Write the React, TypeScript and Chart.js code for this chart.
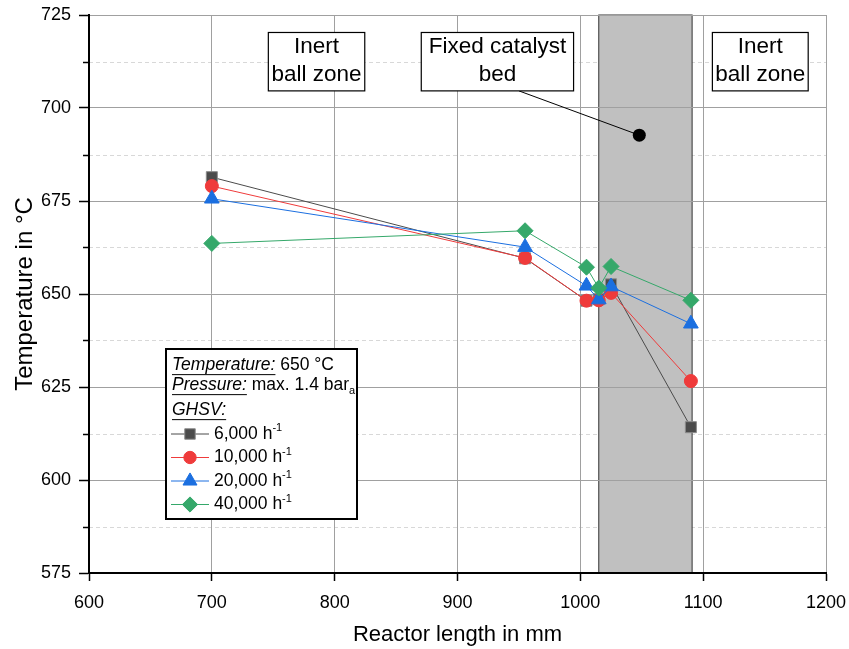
import React, { useEffect, useRef } from 'react';
import { Chart, registerables } from 'chart.js';

Chart.register(...registerables);

// ---- data ----
const reactorPositions = [700, 955, 1005, 1015, 1025, 1090];
const temps6000 = [681.4, 659.6, 648.2, 648.6, 652.6, 614.2];
const temps10000 = [679.0, 659.7, 648.2, 648.3, 650.3, 626.6];
const temps20000 = [675.6, 662.6, 652.2, 648.5, 652.0, 642.0];
const temps40000 = [663.6, 667.0, 657.2, 651.6, 657.4, 648.3];

const seriesLabels = ['6,000', '10,000', '20,000', '40,000'];
const seriesValues = [temps6000, temps10000, temps20000, temps40000];
const seriesColors = ['#4b4b4b', '#ef3b3b', '#1b6fe0', '#35a86a'];
const seriesPointStyles = ['rect', 'circle', 'triangle', 'rectRot'];
const seriesPointRadius = [7.8, 6.5, 8.5, 8];

const xMin = 600, xMax = 1200, xStep = 100;
const yMin = 575, yMax = 725, yStep = 25, yMinorStep = 12.5;

const catalystBed = [1015, 1091];
const annotationDot = { x: 1048, y: 692.7 };

const FONT = "'Liberation Sans', Arial, sans-serif";

// annotation boxes (data coords)
const annotationBoxes = [
  { x0: 746, x1: 824.5, y0: 720.3, y1: 704.6, lines: ['Inert', 'ball zone'] },
  { x0: 870.5, x1: 994.5, y0: 720.3, y1: 704.6, lines: ['Fixed catalyst', 'bed'] },
  { x0: 1107.5, x1: 1185.5, y0: 720.3, y1: 704.6, lines: ['Inert', 'ball zone'] },
];
const leaderStart = { x: 950, y: 704.6 };

function drawMarker(ctx: CanvasRenderingContext2D, style: string, x: number, y: number, r: number, fill: string, stroke: string) {
  ctx.save();
  ctx.fillStyle = fill;
  ctx.strokeStyle = stroke;
  ctx.lineWidth = 1;
  ctx.beginPath();
  if (style === 'rect') {
    const s = r * Math.SQRT1_2;
    ctx.rect(x - s, y - s, 2 * s, 2 * s);
  } else if (style === 'circle') {
    ctx.arc(x, y, r, 0, Math.PI * 2);
  } else if (style === 'triangle') {
    ctx.moveTo(x, y - r);
    ctx.lineTo(x + r * Math.sin((2 * Math.PI) / 3), y - r * Math.cos((2 * Math.PI) / 3));
    ctx.lineTo(x + r * Math.sin((4 * Math.PI) / 3), y - r * Math.cos((4 * Math.PI) / 3));
    ctx.closePath();
  } else {
    ctx.moveTo(x, y - r);
    ctx.lineTo(x + r, y);
    ctx.lineTo(x, y + r);
    ctx.lineTo(x - r, y);
    ctx.closePath();
  }
  ctx.fill();
  ctx.stroke();
  ctx.restore();
}

type Seg = { t: string; it?: boolean; u?: boolean; sub?: boolean; sup?: boolean };

function drawRich(ctx: CanvasRenderingContext2D, x: number, y: number, segs: Seg[], size: number) {
  let cx = x;
  ctx.save();
  ctx.fillStyle = '#000';
  ctx.textBaseline = 'middle';
  ctx.textAlign = 'left';
  for (const s of segs) {
    const fs = s.sub || s.sup ? Math.round(size * 0.65) : size;
    ctx.font = `${s.it ? 'italic ' : ''}${fs}px ${FONT}`;
    const dy = s.sub ? size * 0.35 : s.sup ? -size * 0.32 : 0;
    ctx.fillText(s.t, cx, y + dy);
    const w = ctx.measureText(s.t).width;
    if (s.u) {
      ctx.strokeStyle = '#000';
      ctx.lineWidth = 1;
      ctx.beginPath();
      ctx.moveTo(cx, y + size * 0.55);
      ctx.lineTo(cx + w, y + size * 0.55);
      ctx.stroke();
    }
    cx += w;
  }
  ctx.restore();
}

const decorPlugin = {
  id: 'decor',
  beforeDraw(chart: any) {
    const { ctx, chartArea, scales } = chart;
    const x = scales.x, y = scales.y;
    ctx.save();
    // minor dashed grid lines
    ctx.strokeStyle = '#d8d8d8';
    ctx.lineWidth = 1;
    ctx.setLineDash([4, 3]);
    for (let v = yMin + yMinorStep; v < yMax; v += yStep) {
      const py = Math.round(y.getPixelForValue(v)) + 0.5;
      ctx.beginPath();
      ctx.moveTo(chartArea.left, py);
      ctx.lineTo(chartArea.right, py);
      ctx.stroke();
    }
    ctx.setLineDash([]);
    // minor ticks
    ctx.strokeStyle = '#000';
    ctx.lineWidth = 1.5;
    for (let v = yMin + yMinorStep; v < yMax; v += yStep) {
      const py = Math.round(y.getPixelForValue(v)) + 0.5;
      ctx.beginPath();
      ctx.moveTo(chartArea.left - 6, py);
      ctx.lineTo(chartArea.left, py);
      ctx.stroke();
    }
    // catalyst bed band
    const bx0 = x.getPixelForValue(catalystBed[0]);
    const bx1 = x.getPixelForValue(catalystBed[1]);
    ctx.fillStyle = '#c0c0c0';
    ctx.fillRect(bx0, chartArea.top, bx1 - bx0, chartArea.bottom - chartArea.top);
    ctx.strokeStyle = '#333';
    ctx.lineWidth = 1;
    ctx.strokeRect(bx0, chartArea.top, bx1 - bx0, chartArea.bottom - chartArea.top);
    ctx.restore();
  },
  afterDraw(chart: any) {
    const { ctx, chartArea, scales } = chart;
    const x = scales.x, y = scales.y;
    ctx.save();
    // leader line & dot
    const dx = x.getPixelForValue(annotationDot.x);
    const dy = y.getPixelForValue(annotationDot.y);
    ctx.strokeStyle = '#000';
    ctx.lineWidth = 1;
    ctx.beginPath();
    ctx.moveTo(x.getPixelForValue(leaderStart.x), y.getPixelForValue(leaderStart.y));
    ctx.lineTo(dx, dy);
    ctx.stroke();
    ctx.fillStyle = '#000';
    ctx.beginPath();
    ctx.arc(dx, dy, 6.5, 0, Math.PI * 2);
    ctx.fill();
    // annotation boxes
    for (const b of annotationBoxes) {
      const px0 = x.getPixelForValue(b.x0), px1 = x.getPixelForValue(b.x1);
      const py0 = y.getPixelForValue(b.y0), py1 = y.getPixelForValue(b.y1);
      ctx.fillStyle = '#fff';
      ctx.fillRect(px0, py0, px1 - px0, py1 - py0);
      ctx.strokeStyle = '#000';
      ctx.lineWidth = 1.2;
      ctx.strokeRect(px0, py0, px1 - px0, py1 - py0);
      ctx.fillStyle = '#000';
      ctx.font = `22.5px ${FONT}`;
      ctx.textAlign = 'center';
      ctx.textBaseline = 'middle';
      const cx = (px0 + px1) / 2, cy = (py0 + py1) / 2;
      ctx.fillText(b.lines[0], cx, cy - 14.5);
      ctx.fillText(b.lines[1], cx, cy + 13.5);
    }
    // legend box
    const lx = chartArea.left + 77;
    const ly = chartArea.top + 334;
    const lw = 191, lh = 170;
    ctx.fillStyle = '#fff';
    ctx.fillRect(lx, ly, lw, lh);
    ctx.strokeStyle = '#000';
    ctx.lineWidth = 2;
    ctx.strokeRect(lx, ly, lw, lh);
    const fs = 17.5;
    drawRich(ctx, lx + 6, ly + 16, [{ t: 'Temperature:', it: true, u: true }, { t: ' 650 °C' }], fs);
    drawRich(ctx, lx + 6, ly + 36, [{ t: 'Pressure:', it: true, u: true }, { t: ' max. 1.4 bar' }, { t: 'a', sub: true }], fs);
    drawRich(ctx, lx + 6, ly + 61, [{ t: 'GHSV:', it: true, u: true }], fs);
    for (let i = 0; i < seriesLabels.length; i++) {
      const ry = ly + 85 + i * 23.5;
      ctx.strokeStyle = seriesColors[i];
      ctx.lineWidth = 1;
      ctx.beginPath();
      ctx.moveTo(lx + 5, ry);
      ctx.lineTo(lx + 43, ry);
      ctx.stroke();
      drawMarker(ctx, seriesPointStyles[i], lx + 24, ry, seriesPointRadius[i] * 0.95, seriesColors[i], i === 0 ? '#8c8c8c' : seriesColors[i]);
      drawRich(ctx, lx + 48, ry, [{ t: seriesLabels[i] + ' h' }, { t: '-1', sup: true }], fs);
    }
    ctx.restore();
  },
};

export default function App() {
  const ref = useRef<HTMLCanvasElement>(null);
  useEffect(() => {
    if (!ref.current) return;
    Chart.defaults.font.family = FONT;
    const datasets = seriesLabels.map((label, i) => ({
      label: label + ' h-1',
      data: reactorPositions.map((px, j) => ({ x: px, y: seriesValues[i][j] })),
      borderColor: seriesColors[i],
      backgroundColor: seriesColors[i],
      pointBackgroundColor: seriesColors[i],
      pointBorderColor: i === 0 ? '#8c8c8c' : seriesColors[i],
      pointBorderWidth: 1,
      pointStyle: seriesPointStyles[i] as any,
      pointRadius: seriesPointRadius[i],
      borderWidth: 1,
      tension: 0,
      order: 3 - i,
    }));
    const chart = new Chart(ref.current, {
      type: 'line',
      data: { datasets },
      options: {
        animation: false,
        responsive: false,
        devicePixelRatio: 1,
        layout: { padding: { top: 15, right: 23, left: 0, bottom: 0 } },
        plugins: { legend: { display: false }, tooltip: { enabled: false } },
        scales: {
          x: {
            type: 'linear',
            min: xMin,
            max: xMax,
            ticks: { stepSize: xStep, color: '#000', font: { size: 18, family: FONT }, padding: 11, maxRotation: 0, callback: (v: any) => String(v) },
            grid: { color: '#a0a0a0', lineWidth: 1, tickLength: 8, tickColor: '#000', tickWidth: 1.5 },
            border: { color: '#000', width: 2 },
            title: { display: true, text: 'Reactor length in mm', color: '#000', font: { size: 22, family: FONT }, padding: { top: 0, bottom: 1 } },
            afterFit: (s: any) => { s.height = 76; s.paddingLeft = 0; s.paddingRight = 0; },
          },
          y: {
            min: yMin,
            max: yMax,
            ticks: { stepSize: yStep, color: '#000', font: { size: 18, family: FONT }, padding: 8, callback: (v: any) => String(v) },
            grid: { color: '#a0a0a0', lineWidth: 1, tickLength: 10, tickColor: '#000', tickWidth: 1.5 },
            border: { color: '#000', width: 2 },
            title: { display: true, text: 'Temperature in °C', color: '#000', font: { size: 24, family: FONT }, padding: { top: 11, bottom: 0 } },
            afterFit: (s: any) => { s.width = 89; s.paddingTop = 0; s.paddingBottom = 0; },
          },
        },
      },
      plugins: [decorPlugin],
    });
    return () => chart.destroy();
  }, []);
  return (
    <div style={{ position: 'absolute', left: 0, top: 0, width: 849, height: 649, background: '#fff' }}>
      <canvas ref={ref} width={849} height={649} style={{ display: 'block' }} />
    </div>
  );
}
